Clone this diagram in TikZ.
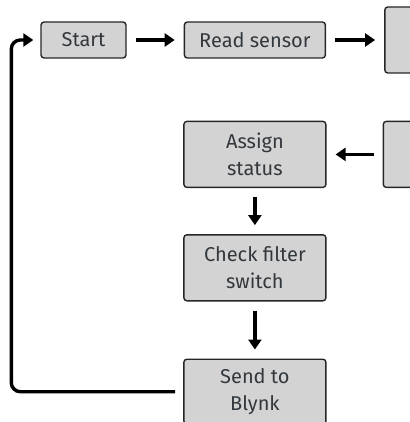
\documentclass[tikz,border=0pt]{standalone}
\usepackage{fontspec}
\setsansfont{Fira Sans}
\usetikzlibrary{positioning,arrows.meta}

\definecolor{boxfill}{HTML}{D3D3D3}
\definecolor{boxtext}{HTML}{33383D}

\tikzset{
  box/.style={
    draw=black!85,
    fill=boxfill,
    line width=1.4pt,
    rounded corners=3pt,
    minimum width=142pt,
    minimum height=66pt,
    inner sep=0pt,
    align=center,
    text=boxtext,
    font=\sffamily\fontsize{20}{27}\selectfont
  },
  flow/.style={
    -{Triangle[length=10pt,width=13pt]},
    line width=3.4pt,
    shorten <=9pt,
    shorten >=9pt
  }
}

\begin{document}
\begin{tikzpicture}[x=1pt,y=1pt]
    \useasboundingbox (0,0) rectangle (409,-422);

    % top row
    \node[box, minimum width=85pt, minimum height=36pt] (start) at (83.5,-40) {Start};
    \node[box, minimum width=141pt, minimum height=36pt, right=57pt of start] (read) {Read sensor};
    \node[box, right=58pt of read] (right1) {};

    % middle column
    \node[box, below=62pt of read] (assign) {Assign\\status};
    \node[box, right=56pt of assign] (right2) {};
    \node[box, below=46pt of assign] (check) {Check filter\\switch};
    \node[box, minimum height=65pt, below=57pt of check] (send) {Send to\\Blynk};

    % connectors
    \draw[flow] (start) -- (read);
    \draw[flow] (read) -- (right1);
    \draw[flow] (right2) -- (assign);
    \draw[flow] (assign) -- (check);
    \draw[flow] (check) -- (send);

    % back to start
    \coordinate (back) at ([xshift=-29pt]start.west);
    \draw[flow, rounded corners=9pt, shorten <=8pt, shorten >=7pt]
      (send.west) -| (back) -- (start.west);
\end{tikzpicture}
\end{document}
